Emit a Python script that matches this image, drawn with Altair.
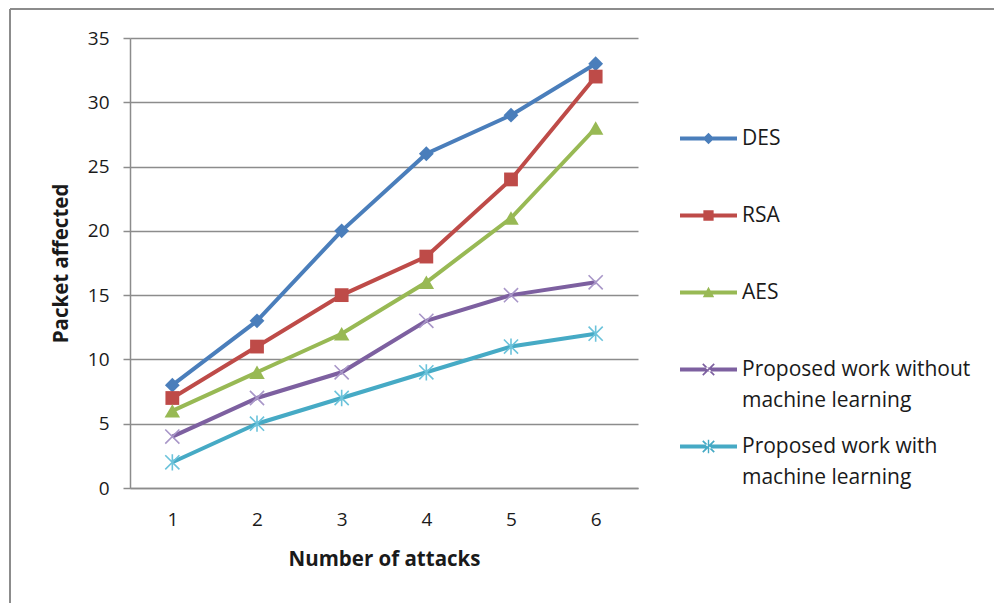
import altair as alt
import pandas as pd

# Packets affected per number of attacks, for each scheme
attacks = [1, 2, 3, 4, 5, 6]
series_names = [
    "DES",
    "RSA",
    "AES",
    "Proposed work without machine learning",
    "Proposed work with machine learning",
]
des = [8, 13, 20, 26, 29, 33]
rsa = [7, 11, 15, 18, 24, 32]
aes = [6, 9, 12, 16, 21, 28]
proposed_no_ml = [4, 7, 9, 13, 15, 16]
proposed_ml = [2, 5, 7, 9, 11, 12]
y_ticks = [0, 5, 10, 15, 20, 25, 30, 35]

series_values = [des, rsa, aes, proposed_no_ml, proposed_ml]

# styling
line_colors = ["#4A7EBB", "#BE4B48", "#98B954", "#7D60A0", "#46AAC5"]
marker_colors = ["#4A7EBB", "#BE4B48", "#98B954", "#A896C8", "#6CC3DB"]
X_PATH = "M-1,-1L1,1M-1,1L1,-1"
STAR_PATH = "M-1,-1L1,1M-1,1L1,-1M0,-1.15L0,1.15"
marker_shapes = ["diamond", "square", "triangle-up", X_PATH, STAR_PATH]
marker_filled = [True, True, True, False, False]
marker_sizes = [220, 190, 240, 200, 200]

# legend glyphs: a thick line segment with the series marker in the middle,
# all drawn as filled outlines (unit box spans the full symbol width)
SEG = "M-1,-0.07H1V0.07H-1Z"
X_ARMS = (
    "M-0.221,-0.179L0.179,0.221L0.221,0.179L-0.179,-0.221Z"
    "M0.221,-0.179L-0.179,0.221L-0.221,0.179L0.179,-0.221Z"
)
legend_shapes = [
    SEG + "M0,-0.2L0.2,0L0,0.2L-0.2,0Z",
    SEG + "M-0.18,-0.18H0.18V0.18H-0.18Z",
    SEG + "M0,-0.2L0.2,0.17L-0.2,0.17Z",
    SEG + X_ARMS,
    SEG + X_ARMS + "M-0.025,-0.24H0.025V0.24H-0.025Z",
]

FONT = "Open Sans"
GRID = "#8C8C8C"
TEXT = "#1A1A1A"

rows = []
for name, vals in zip(series_names, series_values):
    for a, v in zip(attacks, vals):
        rows.append({"attack": a, "value": v, "series": name})
df = pd.DataFrame(rows)

x_enc = alt.X(
    "attack:O",
    scale=alt.Scale(type="point", padding=0.5, domain=attacks),
    axis=alt.Axis(
        title="Number of attacks",
        labelAngle=0,
        ticks=False,
        grid=False,
        domainColor=GRID,
        domainWidth=1.5,
        labelPadding=22,
        titlePadding=20,
    ),
)
y_enc = alt.Y(
    "value:Q",
    scale=alt.Scale(domain=[0, 35], nice=False),
    axis=alt.Axis(
        values=y_ticks,
        title="Packet affected",
        grid=True,
        gridColor=GRID,
        gridWidth=1.5,
        tickColor=GRID,
        tickWidth=1.5,
        tickSize=7,
        domainColor=GRID,
        domainWidth=1.5,
        labelPadding=14,
        titlePadding=16,
    ),
)

# every legend label is two lines so all entries share one height
two_line = (
    "datum.label == 'Proposed work without machine learning' ? "
    "['Proposed work without', 'machine learning'] : "
    "datum.label == 'Proposed work with machine learning' ? "
    "['Proposed work with', 'machine learning'] : [datum.label, '']"
)

layers = []

# outer frame of the figure
layers.append(
    alt.Chart(df).mark_rule(color=GRID, strokeWidth=1.5).encode(
        x=alt.value(-120), x2=alt.value(870), y=alt.value(-29)
    )
)
layers.append(
    alt.Chart(df).mark_rule(color=GRID, strokeWidth=1.5).encode(
        x=alt.value(-120), y=alt.value(-29), y2=alt.value(570)
    )
)

# each series: line then its markers, drawn in series order
for i, name in enumerate(series_names):
    sub = df[df["series"] == name]
    layers.append(
        alt.Chart(sub)
        .mark_line(color=line_colors[i], strokeWidth=4)
        .encode(x=x_enc, y=y_enc)
    )
    layers.append(
        alt.Chart(sub)
        .mark_point(
            shape=marker_shapes[i],
            filled=marker_filled[i],
            size=marker_sizes[i],
            color=marker_colors[i],
            opacity=1,
            strokeWidth=1.6,
        )
        .encode(x=x_enc, y=y_enc)
    )

leg = dict(title=None, labelExpr=two_line, symbolOpacity=1)

# invisible carrier for the legend (line + marker symbols)
layers.append(
    alt.Chart(df)
    .mark_point(filled=True, opacity=0)
    .encode(
        x=x_enc,
        y=y_enc,
        fill=alt.Fill(
            "series:N",
            scale=alt.Scale(domain=series_names, range=line_colors),
            legend=alt.Legend(**leg),
        ),
        shape=alt.Shape(
            "series:N",
            scale=alt.Scale(domain=series_names, range=legend_shapes),
            legend=alt.Legend(**leg),
        ),
    )
)

chart = (
    alt.layer(*layers)
    .properties(
        width=508,
        height=450,
        autosize=alt.AutoSizeParams(type="none"),
        padding={"left": 130, "top": 38, "right": 356, "bottom": 115},
        background="white",
    )
    .configure(
        style={"guide-label": {"lineHeight": 31}},
        view=alt.ViewConfig(stroke=None),
        axis=alt.AxisConfig(
            labelFont=FONT,
            labelFontSize=19,
            labelColor=TEXT,
            titleFont=FONT,
            titleFontSize=20.5,
            titleFontWeight="bold",
            titleColor=TEXT,
        ),
        legend=alt.LegendConfig(
            orient="none",
            legendX=550,
            legendY=72,
            padding=0,
            symbolSize=3249,
            symbolStrokeWidth=0,
            labelOffset=5,
            labelFont=FONT,
            labelFontSize=21,
            labelColor=TEXT,
            labelLimit=400,
            rowPadding=7,
        ),
    )
)

chart.save("out.html", embed_options={"renderer": "svg", "actions": False})
